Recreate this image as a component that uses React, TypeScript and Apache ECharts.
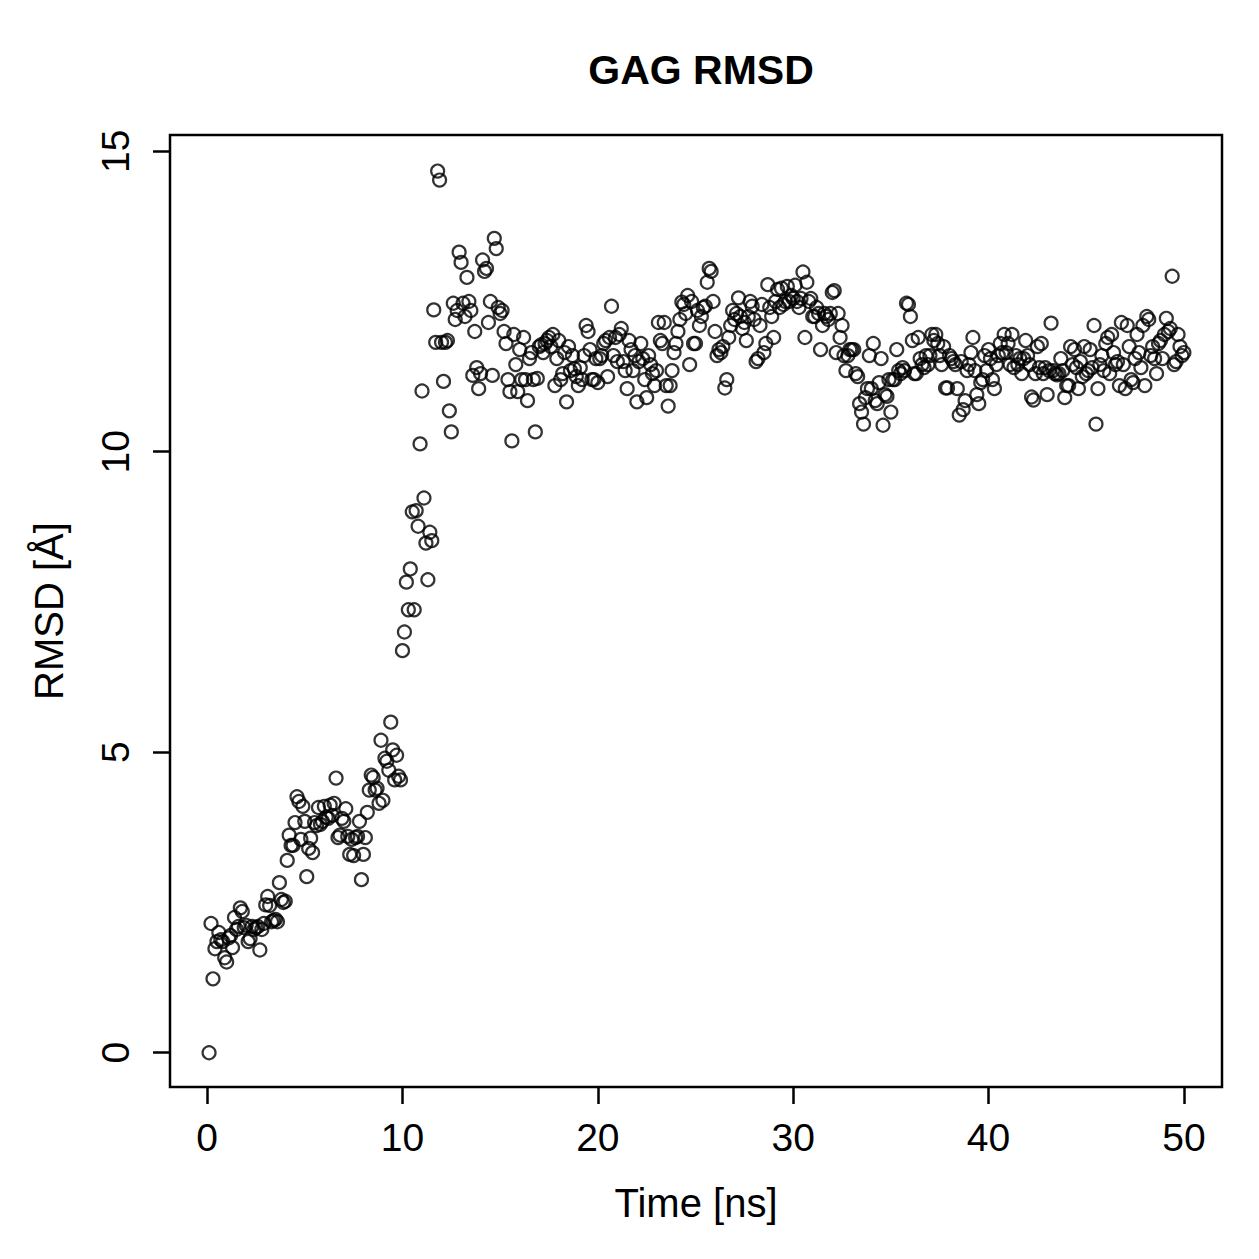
import React, { useEffect, useRef } from "react";
import * as echarts from "echarts";

// RMSD values (Å), one per 0.1 ns frame, grouped by nanosecond
const rmsd0to10: number[] = [
  0.00, 2.15, 1.23, 1.73, 1.85, 2.00, 1.88, 1.85, 1.58, 1.51,
  1.91, 1.95, 1.75, 2.25, 2.05, 2.10, 2.41, 2.35, 2.08, 2.12,
  1.85, 1.90, 2.10, 2.05, 2.08, 2.10, 1.71, 2.05, 2.15, 2.46,
  2.60, 2.45, 2.18, 2.20, 2.22, 2.18, 2.83, 2.55, 2.50, 2.52,
  3.20, 3.62, 3.45, 3.45, 3.83, 4.26, 4.18, 3.55, 4.10, 3.85,
  2.93, 3.40, 3.57, 3.33, 3.83, 3.78, 4.08, 3.80, 3.85, 4.10,
  3.92, 3.90, 4.12, 3.95, 4.15, 4.57, 3.58, 3.62, 3.90, 3.85,
  4.06, 3.60, 3.30, 3.55, 3.28, 3.58, 3.60, 3.85, 2.88, 3.30,
  3.58, 4.00, 4.37, 4.62, 4.58, 4.37, 4.40, 4.15, 5.20, 4.20,
  4.90, 4.85, 4.70, 5.50, 5.04, 4.54, 4.95, 4.60, 4.54, 6.69,
];
const rmsd10to20: number[] = [
  7.00, 7.83, 7.37, 8.05, 9.00, 7.37, 9.02, 8.76, 10.13, 11.01,
  9.23, 8.48, 7.87, 8.66, 8.52, 12.36, 11.82, 14.67, 14.52, 11.82,
  11.17, 11.82, 11.85, 10.68, 10.33, 12.47, 12.20, 12.35, 13.32, 13.15,
  12.47, 12.25, 12.90, 12.50, 12.35, 11.27, 12.00, 11.40, 11.05, 11.30,
  13.19, 13.00, 13.05, 12.15, 12.50, 11.27, 13.55, 13.38, 12.40, 12.30,
  12.35, 12.00, 11.80, 11.20, 11.00, 10.18, 11.95, 11.45, 11.00, 11.70,
  11.20, 11.90, 11.20, 10.85, 11.55, 11.65, 11.20, 10.33, 11.22, 11.75,
  11.78, 11.65, 11.80, 11.85, 11.90, 11.75, 11.95, 11.10, 11.55, 11.85,
  11.20, 11.30, 11.65, 10.83, 11.75, 11.35, 11.60, 11.38, 11.25, 11.10,
  11.40, 11.20, 11.60, 12.10, 12.00, 11.70, 11.20, 11.20, 11.55, 11.15,
];
const rmsd20to30: number[] = [
  11.55, 11.60, 11.80, 11.85, 11.25, 11.90, 12.42, 11.60, 11.90, 11.50,
  11.95, 12.05, 11.50, 11.35, 11.05, 11.85, 11.70, 11.35, 11.60, 10.83,
  11.50, 11.80, 11.55, 11.20, 10.90, 11.60, 11.45, 11.30, 11.10, 11.35,
  12.15, 11.85, 11.80, 12.15, 11.10, 10.76, 11.10, 11.35, 11.65, 11.80,
  12.00, 12.20, 12.49, 12.45, 12.30, 12.60, 11.45, 12.50, 11.80, 11.80,
  12.35, 12.10, 12.25, 12.40, 12.42, 12.82, 13.05, 13.00, 12.50, 12.00,
  11.60, 11.70, 11.65, 11.75, 11.06, 11.20, 11.90, 12.10, 12.35, 12.20,
  12.30, 12.56, 12.25, 12.05, 12.15, 11.85, 12.25, 12.50, 12.42, 12.20,
  11.50, 11.55, 12.10, 12.45, 11.65, 11.80, 12.78, 12.40, 12.25, 11.90,
  12.50, 12.70, 12.40, 12.72, 12.45, 12.50, 12.75, 12.50, 12.60, 12.55,
];
const rmsd30to40: number[] = [
  12.77, 12.50, 12.40, 12.55, 12.99, 11.90, 12.82, 12.50, 12.55, 12.25,
  12.25, 12.40, 12.30, 11.70, 12.10, 12.30, 12.25, 12.20, 12.30, 12.65,
  12.68, 11.65, 12.30, 11.90, 12.10, 11.60, 11.35, 11.60, 11.70, 11.70,
  11.70, 11.30, 11.25, 10.80, 10.66, 10.46, 10.90, 11.05, 11.60, 11.05,
  11.80, 10.85, 10.80, 11.15, 11.55, 10.44, 10.95, 10.92, 11.20, 10.66,
  11.20, 11.20, 11.70, 11.35, 11.30, 11.40, 11.35, 12.47, 12.45, 12.25,
  11.85, 11.30, 11.30, 11.90, 11.55, 11.45, 11.40, 11.60, 11.45, 11.60,
  11.95, 11.85, 11.95, 11.80, 11.60, 11.45, 11.75, 11.06, 11.06, 11.60,
  11.55, 11.50, 11.45, 11.05, 10.61, 11.50, 10.70, 10.85, 11.35, 11.45,
  11.65, 11.90, 11.35, 10.95, 10.80, 11.15, 11.20, 11.60, 11.35, 11.70,
];
const rmsd40to50: number[] = [
  11.55, 11.20, 11.05, 11.45, 11.60, 11.80, 11.65, 11.95, 11.65, 11.80,
  11.45, 11.95, 11.40, 11.60, 11.45, 11.55, 11.30, 11.55, 11.85, 11.60,
  11.45, 10.91, 10.86, 11.30, 11.75, 11.40, 11.80, 11.30, 11.40, 10.95,
  11.35, 12.14, 11.35, 11.30, 11.28, 11.30, 11.55, 11.35, 10.90, 11.10,
  11.10, 11.75, 11.45, 11.70, 11.40, 11.05, 11.50, 11.25, 11.75, 11.30,
  11.35, 11.70, 11.40, 12.10, 10.46, 11.05, 11.45, 11.60, 11.35, 11.80,
  11.90, 11.30, 11.95, 11.65, 11.45, 11.50, 11.10, 12.15, 11.45, 11.05,
  12.10, 11.75, 11.20, 11.15, 11.55, 11.95, 11.65, 11.40, 12.10, 11.10,
  12.25, 12.20, 11.60, 11.75, 11.55, 11.30, 11.80, 11.85, 11.55, 11.95,
  12.22, 12.00, 12.05, 12.92, 11.45, 11.50, 11.95, 11.75, 11.60, 11.65,
];

const rmsdValues: number[] = [
  ...rmsd0to10,
  ...rmsd10to20,
  ...rmsd20to30,
  ...rmsd30to40,
  ...rmsd40to50,
];
const timeStepNs = 0.1;
const xTicks: number[] = [0, 10, 20, 30, 40, 50];
const yTicks: number[] = [0, 5, 10, 15];

const FONT = "'Liberation Sans', Arial, Helvetica, sans-serif";

export default function App() {
  const ref = useRef<HTMLDivElement>(null);

  useEffect(() => {
    if (!ref.current) return;
    const chart = echarts.init(ref.current, undefined, { renderer: "svg" });
    const points = rmsdValues.map((v, i) => [
      Math.round((i + 1) * timeStepNs * 10) / 10,
      v,
    ]);
    chart.setOption({
      animation: false,
      backgroundColor: "#ffffff",
      title: {
        text: "GAG RMSD",
        left: 696,
        textAlign: "center",
        top: 44,
        textStyle: {
          fontFamily: FONT,
          fontSize: 41,
          fontWeight: "bold",
          color: "#000",
        },
      },
      grid: {
        left: 170,
        top: 135,
        right: 37,
        bottom: 172,
        show: true,
        borderColor: "#000",
        borderWidth: 2.5,
        backgroundColor: "transparent",
      },
      xAxis: {
        type: "value",
        min: -1.9,
        max: 51.95,
        name: "Time [ns]",
        nameLocation: "middle",
        nameGap: 96,
        nameTextStyle: { fontFamily: FONT, fontSize: 40, color: "#000" },
        axisLine: { show: false, onZero: false },
        axisTick: {
          show: true,
          length: 17,
          customValues: xTicks,
          lineStyle: { color: "#000", width: 2.5 },
        },
        axisLabel: {
          customValues: xTicks,
          margin: 31,
          fontFamily: FONT,
          fontSize: 39,
          color: "#000",
        },
        splitLine: { show: false },
      },
      yAxis: {
        type: "value",
        min: -0.57,
        max: 15.27,
        name: "RMSD [Å]",
        nameLocation: "middle",
        nameGap: 101,
        nameRotate: 90,
        nameTextStyle: { fontFamily: FONT, fontSize: 40, color: "#000" },
        axisLine: { show: false, onZero: false },
        axisTick: {
          show: true,
          length: 17,
          customValues: yTicks,
          lineStyle: { color: "#000", width: 2.5 },
        },
        axisLabel: {
          customValues: yTicks,
          rotate: 90,
          margin: 35,
          fontFamily: FONT,
          fontSize: 39,
          color: "#000",
        },
        splitLine: { show: false },
      },
      series: [
        {
          type: "scatter",
          data: points,
          symbol: "circle",
          symbolSize: 13,
          itemStyle: {
            color: "transparent",
            borderColor: "#000",
            borderWidth: 2.2,
          },
          emphasis: { disabled: true },
        },
      ],
    });
    return () => chart.dispose();
  }, []);

  return (
    <div
      ref={ref}
      style={{ position: "absolute", left: 0, top: 0, width: 1259, height: 1259 }}
    />
  );
}
